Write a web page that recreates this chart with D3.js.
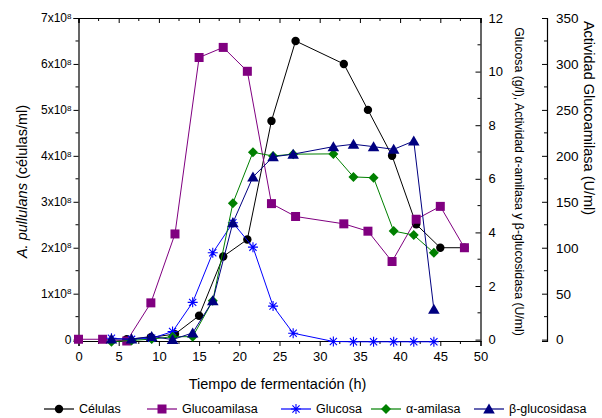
<!DOCTYPE html>
<html>
<head>
<meta charset="utf-8">
<script src="https://cdn.jsdelivr.net/npm/d3@7"></script>
<style>
  body { margin: 0; background: white; }
  text { font-family: "Liberation Sans", Arial, sans-serif; fill: #000; }
</style>
</head>
<body>
<div id="vis"></div>
<script>
// data
// cells (x10^8 cells/ml)
let tCells = [6, 9, 12, 15, 18, 21, 24, 27, 33, 36, 39, 42, 45, 48];
let cells = [0.01, 0.05, 0.12, 0.52, 1.81, 2.18, 4.76, 6.5, 6.0, 5.0, 4.0, 2.51, 2.0, 2.0];
// glucoamilasa (U/ml)
let tGluco = [0, 3, 6, 9, 12, 15, 18, 21, 24, 27, 33, 36, 39, 42, 45, 48];
let glucoamilasa = [0.4, 0.4, -1.5, 40, 115, 307, 318, 292, 148, 134, 126, 118, 85, 131, 145, 100];
// glucosa, alfa-amilasa, beta-glucosidasa
let tEnz = [4.1, 6.6, 9.1, 11.7, 14.2, 16.7, 19.2, 21.7, 24.2, 26.7, 31.7, 34.2, 36.7, 39.2, 41.7, 44.2];
let glucosa = [0.05, 0.01, 0.05, 0.3, 1.39, 3.24, 4.36, 3.45, 1.25, 0.24, -0.07, -0.08, -0.08, -0.08, -0.08, -0.08];
let alfa = [-0.08, -0.03, 0.02, 0.11, 0.11, 1.45, 5.09, 6.99, 6.85, 6.92, 6.93, 6.07, 6.04, 4.05, 3.9, 3.24];
let beta = [0.02, 0.02, 0.12, 0.0, 0.25, 1.45, 4.36, 6.07, 6.82, 6.92, 7.2, 7.29, 7.2, 7.1, 7.41, 1.13];

let xTicks = d3.range(0, 51, 5);
let yLeftTicks = d3.range(0, 8, 1);
let yGlcTicks = d3.range(0, 13, 2);
let yActTicks = d3.range(0, 351, 50);

let seriesNames = ['Células', 'Glucoamilasa', 'Glucosa', 'α-amilasa', 'β-glucosidasa'];
let seriesColors = ['#000000', '#800080', '#0000ff', '#008000', '#000080'];

let W = 602, H = 418;
let plotL = 78.5, plotR = 480.5, plotT = 18, plotB = 341;

let svg = d3.select('#vis').append('svg')
  .attr('width', W).attr('height', H)
  .style('background-color', 'white');

let x = d3.scaleLinear().domain([0, 50]).range([plotL, plotR]);
let yCells = d3.scaleLinear().domain([-0.03, 7]).range([plotB, plotT]);
let yGlc = d3.scaleLinear().domain([-12 * 0.03 / 7, 12]).range([plotB, plotT]);
let yAct = d3.scaleLinear().domain([-350 * 0.03 / 7, 350]).range([plotB, plotT]);

function styleAxis(g, size) {
  g.selectAll('path.domain').attr('stroke', '#000').attr('stroke-width', 1.2);
  g.selectAll('.tick line').attr('stroke', '#000').attr('stroke-width', 1);
  g.selectAll('.tick text').style('font-family', '"Liberation Sans", Arial, sans-serif').style('font-size', size + 'px').attr('fill', '#000');
}

// minor ticks helper
function minor(g, vals, fn, horizontal, len) {
  g.selectAll(null).data(vals).enter().append('line')
    .attr('x1', d => horizontal ? fn(d) : 0)
    .attr('x2', d => horizontal ? fn(d) : len)
    .attr('y1', d => horizontal ? 0 : fn(d))
    .attr('y2', d => horizontal ? len : fn(d))
    .attr('stroke', '#000').attr('stroke-width', 1);
}

// bottom axis
let gx = svg.append('g').attr('transform', `translate(0,${plotB})`)
  .call(d3.axisBottom(x).tickValues(xTicks).tickSizeOuter(0).tickSize(5).tickPadding(6));
styleAxis(gx, 13);
minor(gx, d3.range(2.5, 50, 5), x, true, 3);

// top axis (ticks inside)
let gxt = svg.append('g').attr('transform', `translate(0,${plotT})`)
  .call(d3.axisTop(x).tickValues(xTicks).tickSizeOuter(0).tickSize(-5).tickFormat(''));
styleAxis(gxt, 13);
minor(gxt, d3.range(2.5, 50, 5), x, true, 3);

// left axis
let gyl = svg.append('g').attr('transform', `translate(${plotL},0)`)
  .call(d3.axisLeft(yCells).tickValues(yLeftTicks).tickSizeOuter(0).tickSize(5).tickPadding(4).tickFormat(''));
styleAxis(gyl, 12);
minor(gyl, d3.range(0.5, 7, 1), yCells, false, -3);
gyl.selectAll('.tick').each(function(d) {
  let t = d3.select(this).select('text').attr('x', -7).attr('dy', '0.32em')
    .style('font-size', '12px');
  if (d === 0) { t.text('0'); }
  else {
    t.text(null);
    t.append('tspan').text(d + 'x10');
    t.append('tspan').attr('dy', '-0.45em').style('font-size', '8px').text('8');
  }
});

// right axis glucosa (ticks inside)
let gyr = svg.append('g').attr('transform', `translate(${plotR},0)`)
  .call(d3.axisRight(yGlc).tickValues(yGlcTicks).tickSizeOuter(0).tickSize(-5).tickPadding(8));
styleAxis(gyr, 13);
minor(gyr, d3.range(1, 12, 2), yGlc, false, -3);

// second right axis: actividad
let actX = 547;
let gya = svg.append('g').attr('transform', `translate(${actX},0)`)
  .call(d3.axisRight(yAct).tickValues(yActTicks).tickSizeOuter(0).tickSize(-5).tickPadding(9));
styleAxis(gya, 13.5);
minor(gya, d3.range(25, 350, 50), yAct, false, -3);

// axis titles
svg.append('text')
  .attr('transform', `translate(27,${(plotT + plotB) / 2 + 2}) rotate(-90)`)
  .attr('text-anchor', 'middle').style('font-size', '14.5px')
  .call(t => {
    t.append('tspan').style('font-style', 'italic').text('A. pullulans');
    t.append('tspan').text(' (células/ml)');
  });

svg.append('text')
  .attr('x', (plotL + plotR) / 2 - 2).attr('y', 389)
  .attr('text-anchor', 'middle').style('font-size', '14.5px')
  .text('Tiempo de fermentación (h)');

svg.append('text')
  .attr('transform', `translate(515,${(plotT + plotB) / 2 + 2}) rotate(90)`)
  .attr('text-anchor', 'middle').style('font-size', '12.3px')
  .text('Glucosa (g/l), Actividad α-amilasa y β-glucosidasa (U/ml)');

svg.append('text')
  .attr('transform', `translate(584,${118}) rotate(90)`)
  .attr('text-anchor', 'middle').style('font-size', '14.5px')
  .text('Actividad Glucoamilasa (U/ml)');

// markers
function drawMarker(g, kind, color) {
  if (kind === 'circle') {
    g.append('circle').attr('r', 4.2).attr('fill', color);
  } else if (kind === 'square') {
    g.append('rect').attr('x', -4.5).attr('y', -4.5).attr('width', 9).attr('height', 9).attr('fill', color);
  } else if (kind === 'star') {
    g.append('path').attr('d', 'M-5,0H5M0,-5V5M-3.6,-3.6L3.6,3.6M-3.6,3.6L3.6,-3.6')
      .attr('stroke', color).attr('stroke-width', 1.1).attr('fill', 'none');
  } else if (kind === 'diamond') {
    g.append('path').attr('d', 'M0,-5L5,0L0,5L-5,0Z').attr('fill', color);
  } else if (kind === 'triangle') {
    g.append('path').attr('d', 'M0,-5.5L5.8,4.5L-5.8,4.5Z').attr('fill', color);
  }
}

let kinds = ['circle', 'square', 'star', 'diamond', 'triangle'];
let seriesList = [
  { t: tCells, v: cells, y: yCells },
  { t: tGluco, v: glucoamilasa, y: yAct },
  { t: tEnz, v: glucosa, y: yGlc },
  { t: tEnz, v: alfa, y: yGlc },
  { t: tEnz, v: beta, y: yGlc }
];

seriesList.forEach(function(s, i) {
  let pts = s.t.map((t, j) => [t, s.v[j]]);
  let line = d3.line().x(d => x(d[0])).y(d => s.y(d[1]));
  let g = svg.append('g');
  g.append('path').datum(pts).attr('d', line)
    .attr('fill', 'none').attr('stroke', seriesColors[i]).attr('stroke-width', 1);
  g.selectAll('g.m').data(pts).enter().append('g')
    .attr('transform', d => `translate(${x(d[0])},${s.y(d[1])})`)
    .each(function() { drawMarker(d3.select(this), kinds[i], seriesColors[i]); });
});

// legend
let legX = [44, 147, 281, 371, 474];
let legend = svg.append('g').attr('transform', 'translate(0,409)');
seriesNames.forEach(function(name, i) {
  let g = legend.append('g').attr('transform', `translate(${legX[i]},0)`);
  g.append('line').attr('x1', 0).attr('x2', 30).attr('y1', 0).attr('y2', 0)
    .attr('stroke', seriesColors[i]).attr('stroke-width', 1.2);
  let m = g.append('g').attr('transform', 'translate(15,0)');
  drawMarker(m, kinds[i], seriesColors[i]);
  g.append('text').attr('x', 35).attr('y', 0).attr('dy', '0.35em')
    .style('font-size', '12.5px').text(name);
});
</script>
</body>
</html>
